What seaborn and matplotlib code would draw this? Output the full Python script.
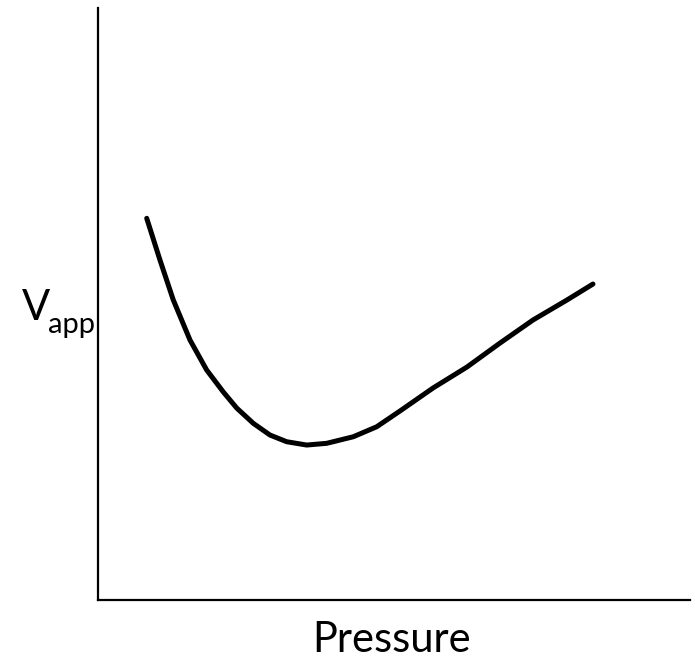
#!/usr/bin/env python3
import matplotlib
matplotlib.use('Agg')
import matplotlib.pyplot as plt
import seaborn as sns
import pandas

# Paschen-like curve (arbitrary units, axes 0..10)
pressure = [0.823, 1.047, 1.272, 1.554, 1.836, 2.117, 2.343, 2.623, 2.905, 3.188,
            3.525, 3.863, 4.312, 4.708, 5.101, 5.659, 6.233, 6.791, 7.348, 7.922, 8.361]
voltage = [6.448, 5.743, 5.068, 4.392, 3.885, 3.514, 3.243, 2.985, 2.787, 2.674,
           2.618, 2.647, 2.758, 2.927, 3.193, 3.581, 3.936, 4.341, 4.730, 5.068, 5.338]

x_label = 'Pressure'
y_label_main = 'V'
y_label_sub = 'app'

sns.set_style('white')
plt.rcParams['font.family'] = ['Lato', 'DejaVu Sans']
plt.rcParams['text.color'] = 'black'


def main():
    data = pandas.DataFrame({'pressure': pressure, 'voltage': voltage})

    fig = plt.figure(figsize=(6.95, 6.58), dpi=100)
    ax = fig.add_axes([0.141, 0.0881, 0.8518, 0.8997])
    sns.lineplot(x='pressure', y='voltage', data=data, color='black',
                 linewidth=3.6, sort=False, ax=ax)

    ax.set_xlim(0, 10)
    ax.set_ylim(0, 10)
    ax.set_xticks([])
    ax.set_yticks([])
    ax.set_xlabel('')
    ax.set_ylabel('')
    sns.despine(ax=ax)
    for side in ['left', 'bottom']:
        ax.spines[side].set_color('black')
        ax.spines[side].set_linewidth(1.6)

    fig.text(0.564, 6 / 658, x_label, ha='center', va='baseline', fontsize=30)
    fig.text(22 / 695, (658 - 320) / 658, y_label_main, ha='left', va='baseline', fontsize=30)
    fig.text(48 / 695, (658 - 333) / 658, y_label_sub, ha='left', va='baseline', fontsize=21)

    fig.savefig('out.png', dpi=100)


if __name__ == '__main__':
    main()
